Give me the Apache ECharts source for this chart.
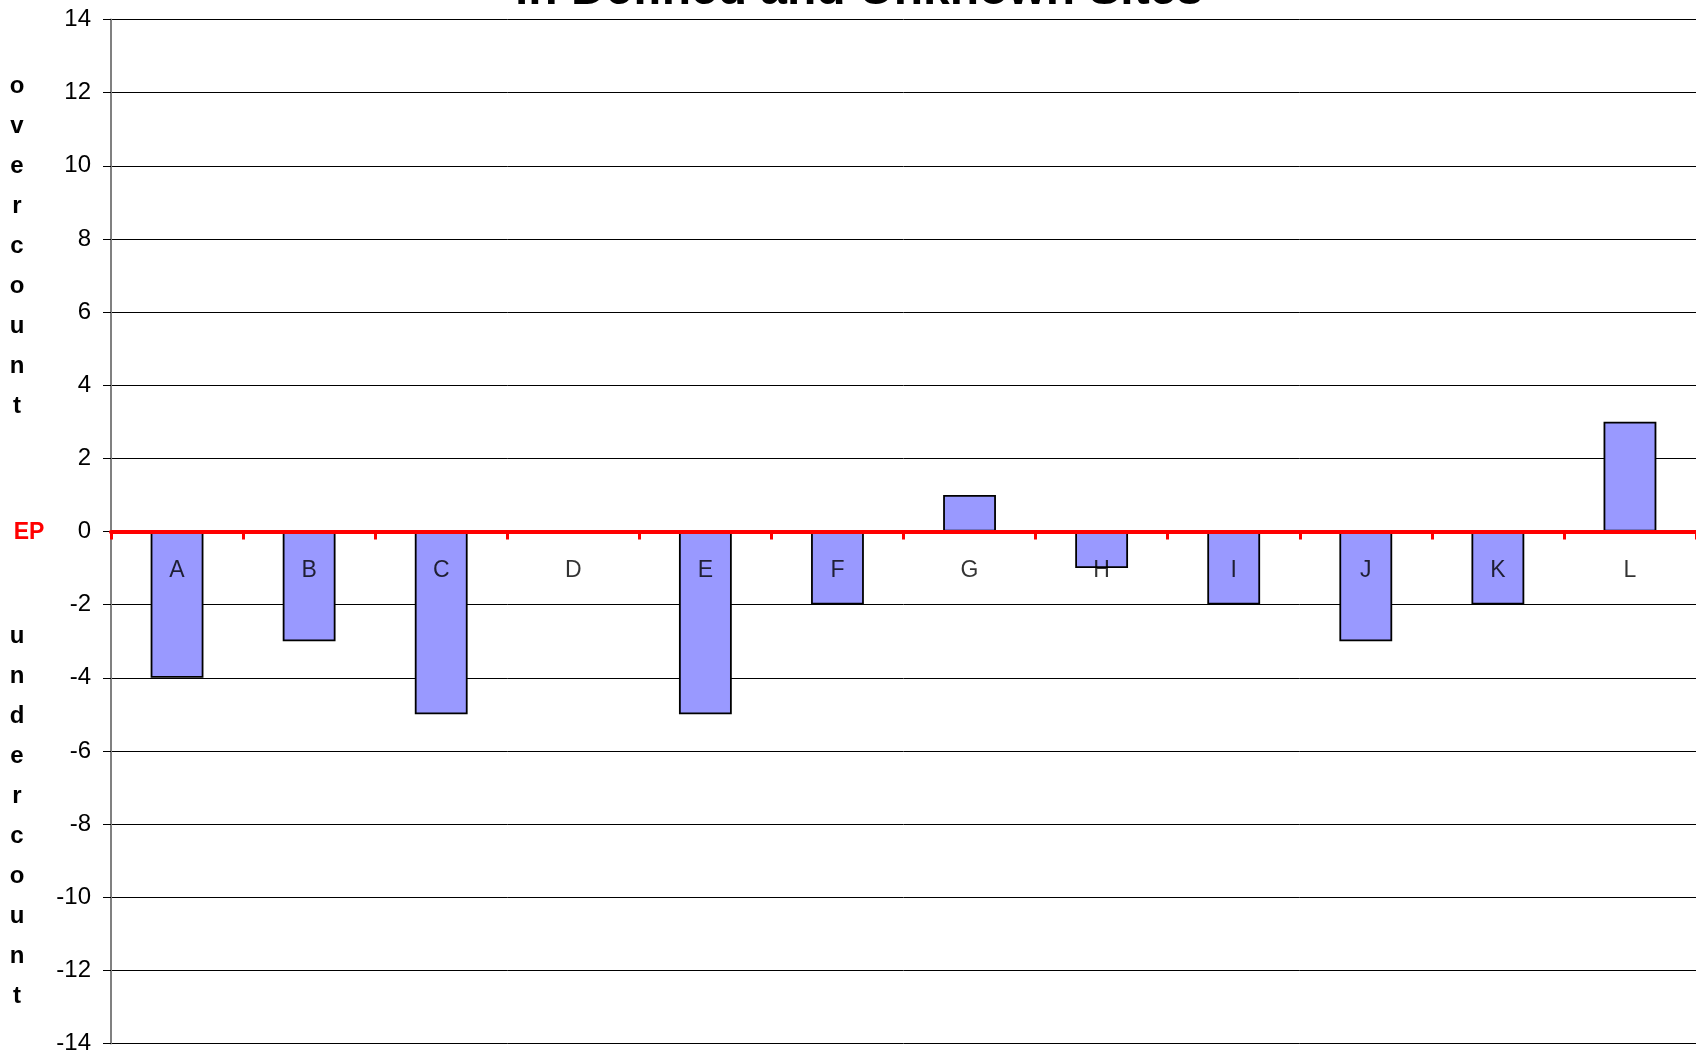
<!DOCTYPE html>
<html>
<head>
<meta charset="utf-8">
<script src="https://cdn.jsdelivr.net/npm/echarts@6/dist/echarts.min.js"></script>
<style>
html,body{margin:0;padding:0;background:#fff;}
#chart{width:1696px;height:1053px;}
</style>
</head>
<body>
<div id="chart"></div>
<script>
const categories = ['A','B','C','D','E','F','G','H','I','J','K','L'];
const values = [-4,-3,-5,0,-5,-2,1,-1,-2,-3,-2,3];
const titleText = 'in Defined and Unknown Sites';
const overLabel = 'overcount';
const underLabel = 'undercount';
const zeroLabel = 'EP';

const FONT = 'Liberation Sans, Arial, sans-serif';
const chart = echarts.init(document.getElementById('chart'), null, {renderer:'canvas'});
chart.setOption({
  backgroundColor:'#fff',
  animation:false,
  grid:{left:111, right:0, top:19.5, bottom:9.5, containLabel:false, outerBoundsMode:'none'},
  graphic:[
    {type:'text', x:859, y:-9, z:100,
      style:{text:titleText, font:'bold 48px ' + FONT, fill:'#000', align:'center', verticalAlign:'middle'}},
    {type:'text', x:17, y:66, style:{text:overLabel.split('').join('\n'), font:'bold 24px ' + FONT, fill:'#000', align:'center', verticalAlign:'top', lineHeight:40}},
    {type:'text', x:17, y:616, style:{text:underLabel.split('').join('\n'), font:'bold 24px ' + FONT, fill:'#000', align:'center', verticalAlign:'top', lineHeight:40}},
    {type:'text', x:29, y:533, style:{text:zeroLabel, font:'bold 23px ' + FONT, fill:'#ff0000', align:'center', verticalAlign:'middle'}}
  ],
  xAxis:{
    type:'category', data:categories, z:10,
    axisLine:{show:true, onZero:true, lineStyle:{color:'#ff0000', width:4}},
    axisTick:{show:true, interval:0, length:8, lineStyle:{color:'#ff0000', width:3}},
    axisLabel:{show:false},
    splitLine:{show:false}
  },
  yAxis:{
    type:'value', min:-14, max:14, interval:2,
    axisLine:{show:true, lineStyle:{color:'#808080', width:2}},
    axisTick:{show:true, length:8, lineStyle:{color:'#000', width:1}},
    axisLabel:{margin:20, fontSize:24, color:'#000', fontFamily:FONT},
    splitLine:{show:true, lineStyle:{color:'#000', width:1}}
  },
  series:[{
    type:'bar', data:values, barWidth:'40%',
    itemStyle:{color:'#9999ff', borderColor:'#000', borderWidth:1.8}
  },{
    type:'scatter', z:20, symbolSize:0, silent:true,
    data:categories.map(function(c){return [c,0];}),
    label:{show:true, position:'bottom', distance:28, fontSize:23, color:'#000', fontFamily:FONT,
      formatter:function(p){return p.value[0];}}
  }]
});
</script>
</body>
</html>
